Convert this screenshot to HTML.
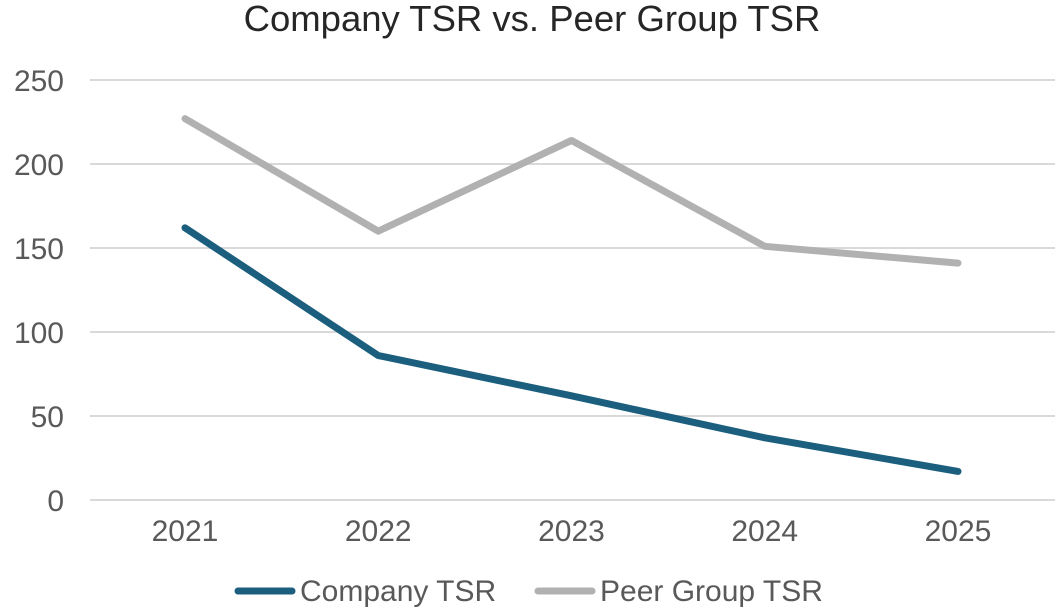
<!DOCTYPE html>
<html><head><meta charset="utf-8"><style>
html,body{margin:0;padding:0;background:#fff;}
svg{display:block;font-family:"Liberation Sans","DejaVu Sans",sans-serif;}
</style></head><body>
<svg id="chart" width="1055" height="612" viewBox="0 0 1055 612">
<text x="532" y="31" text-anchor="middle" font-size="36.5" fill="#262626">Company TSR vs. Peer Group TSR</text>
<g id="grid"></g><g id="yt"></g><g id="xt"></g><g id="series"></g>
<g>
<line x1="238" y1="591" x2="292" y2="591" stroke="#1b5e7e" stroke-width="7" stroke-linecap="round"/>
<text x="300" y="601" font-size="30" fill="#595959">Company TSR</text>
<line x1="538" y1="591" x2="592" y2="591" stroke="#b1b1b1" stroke-width="7" stroke-linecap="round"/>
<text x="600" y="601" font-size="30" fill="#595959">Peer Group TSR</text>
</g>
</svg>
<script>
const categories=["2021","2022","2023","2024","2025"];
const companyTSR=[162,86,62,37,17];
const peerTSR=[227,160,214,151,141];
const yTicks=[0,50,100,150,200,250];
const NS="http://www.w3.org/2000/svg";
function y(v){return 500-v*1.68;}
function x(i){return 185+i*193.25;}
function mk(tag,attrs,parent){const e=document.createElementNS(NS,tag);for(const k in attrs)e.setAttribute(k,attrs[k]);document.getElementById(parent).appendChild(e);return e;}
yTicks.forEach(t=>{
 const l=mk("line",{x1:90,x2:1055,y1:y(t),y2:y(t),stroke:"#d9d9d9","stroke-width":2},"grid");
 
 
 const tx=mk("text",{x:64,y:y(t)+11,"text-anchor":"end","font-size":30,fill:"#595959"},"yt");
 tx.textContent=t;
 
 
});
categories.forEach((c,i)=>{
 const tx=mk("text",{x:x(i),y:541,"text-anchor":"middle","font-size":30,fill:"#595959"},"xt");
 tx.textContent=c;
 
 
});
function line(vals,color,name){
 const p=mk("polyline",{points:vals.map((v,i)=>x(i)+","+y(v)).join(" "),fill:"none",stroke:color,"stroke-width":7,"stroke-linecap":"round","stroke-linejoin":"round"},"series");
 
 
}
line(peerTSR,"#b1b1b1","peer-tsr-line");
line(companyTSR,"#1b5e7e","company-tsr-line");
</script>
</body></html>
